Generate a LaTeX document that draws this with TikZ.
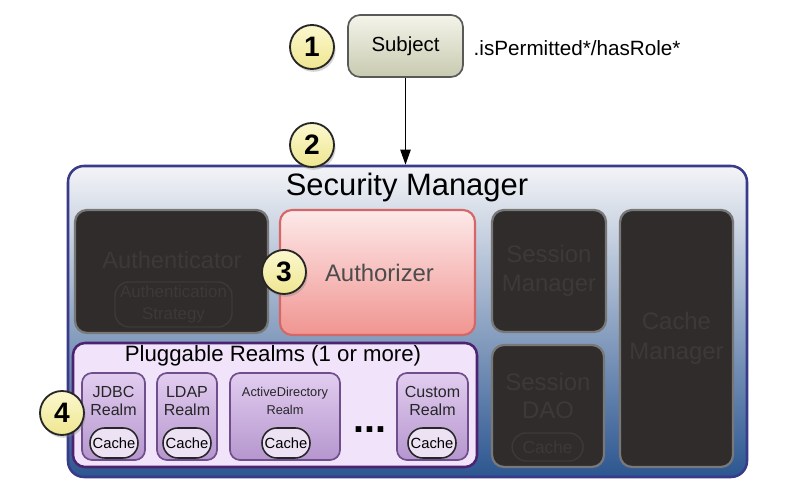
\documentclass[tikz,border=0pt]{standalone}
\usepackage{fontspec}
\setmainfont{Liberation Sans}
\usetikzlibrary{arrows.meta,shapes,positioning,shadows,calc}

\definecolor{darkbox}{HTML}{302C2C}
\definecolor{darktext}{HTML}{3E3939}
\definecolor{darkedge}{HTML}{787878}
\definecolor{secborder}{HTML}{3A3A8A}
\definecolor{sectop}{HTML}{F3F4F7}
\definecolor{secmid}{HTML}{B3BDCB}
\definecolor{secbottom}{HTML}{2C5690}
\definecolor{authztop}{HTML}{FDE9E9}
\definecolor{authzbottom}{HTML}{F09591}
\definecolor{authzedge}{HTML}{D56766}
\definecolor{realmsfill}{HTML}{F1E3FA}
\definecolor{realmborder}{HTML}{4B2370}
\definecolor{realmtop}{HTML}{E2CDF0}
\definecolor{realmbottom}{HTML}{B596CE}
\definecolor{realmline}{HTML}{6E4F8C}
\definecolor{ovalfill}{HTML}{EDE2F4}
\definecolor{numtop}{HTML}{FBF8CF}
\definecolor{numbottom}{HTML}{EFE690}
\definecolor{subjtop}{HTML}{F4F4EA}
\definecolor{subjbottom}{HTML}{C8CAB0}

\tikzset{
  numcircle/.style={circle, draw=black!85, line width=1.3pt, top color=numtop, bottom color=numbottom,
    minimum size=1.1cm, inner sep=0pt, font=\fontsize{20}{20}\selectfont\bfseries,
    drop shadow={opacity=0.35, shadow xshift=0.04cm, shadow yshift=-0.07cm}},
  subjectbox/.style={rectangle, rounded corners=0.3cm, draw=black!65, line width=1.2pt,
    top color=subjtop, bottom color=subjbottom, minimum width=2.875cm, minimum height=1.55cm,
    font=\fontsize{14.5}{17}\selectfont},
  secbox/.style={rectangle, rounded corners=0.4cm, draw=secborder, line width=1.8pt,
    top color=sectop, middle color=secmid, bottom color=secbottom,
    minimum width=16.975cm, minimum height=7.775cm},
  darkpart/.style={rectangle, rounded corners=0.3cm, fill=darkbox, draw=darkedge, line width=1.6pt,
    text=darktext, align=center, font=\fontsize{17}{21}\selectfont},
  darkoval/.style={rectangle, rounded corners=0.35cm, draw=darktext, line width=1pt, text=darktext, align=center},
  authzbox/.style={rectangle, rounded corners=0.3cm, draw=authzedge, line width=1.5pt,
    top color=authztop, bottom color=authzbottom, minimum width=4.875cm, minimum height=3.125cm,
    text=black!70, font=\fontsize{17}{20}\selectfont},
  realmsbox/.style={rectangle, rounded corners=0.3cm, draw=realmborder, line width=1.8pt,
    fill=realmsfill, minimum width=10.1cm, minimum height=3.1cm},
  realmbox/.style={rectangle, rounded corners=0.25cm, draw=realmline, line width=1.2pt,
    top color=realmtop, bottom color=realmbottom, minimum height=2.175cm},
  realmtext/.style={align=center, font=\fontsize{11.4}{12.5}\selectfont, text=black!85},
  cacheoval/.style={rectangle, rounded corners=0.37cm, draw=black!85, line width=1.1pt, fill=ovalfill,
    minimum width=1.2cm, minimum height=0.75cm, inner sep=0pt, font=\fontsize{10.5}{12}\selectfont},
  callarrow/.style={-{Triangle[length=0.38cm,width=0.26cm]}, line width=1.1pt}
}

\begin{document}
\begin{tikzpicture}
  \useasboundingbox (0,0) rectangle (20.175,12.25);

  % Subject
  \node[subjectbox] (subject) at (10.1375,11.1) {Subject};
  \node[anchor=west, inner sep=1pt, font=\fontsize{14.7}{17}\selectfont] (call) at (11.8,11.05) {.isPermitted*/hasRole*};
  \node[numcircle] (n1) at (7.8,11.075) {1};

  % Security Manager
  \node[secbox] (secmgr) at (10.1875,4.2125) {};
  \node[numcircle] (n2) at (7.8,8.625) {2};
  \node[font=\fontsize{22}{26}\selectfont] (sectitle) at (10.175,7.55) {Security Manager};
  \draw[callarrow] (subject.south) -- (subject.south |- secmgr.north);

  % Authenticator
  \node[darkpart, minimum width=4.825cm, minimum height=3.075cm] (authc) at (4.2875,5.4625) {};
  \node[text=darktext, font=\fontsize{16.8}{20}\selectfont] (authctext) at (4.3,5.75) {Authenticator};
  \node[darkoval, minimum width=2.925cm, minimum height=1.125cm, inner sep=0pt,
    font=\fontsize{12}{15.5}\selectfont] (strategy) at (4.3375,4.6375) {Authentication\\Strategy};

  % Authorizer
  \node[authzbox] (authz) at (9.4375,5.4375) {\hspace*{0.1cm}Authorizer};
  \node[numcircle] (n3) at (7.1,5.45) {3};

  % Session, DAO and cache
  \node[darkpart, minimum width=2.85cm, minimum height=3.05cm] (sessmgr) at (13.725,5.475) {Session\\Manager};
  \node[darkpart, minimum width=2.8cm, minimum height=3.05cm] (sessdao) at (13.7,2.1) {};
  \node[text=darktext, align=center, font=\fontsize{17}{20.5}\selectfont] (daotext) at (13.7,2.35) {Session\\DAO};
  \node[darkoval, minimum width=1.775cm, minimum height=0.7cm, inner sep=0pt,
    font=\fontsize{12.3}{14}\selectfont] (daocache) at (13.69,1.075) {Cache};
  \node[darkpart, minimum width=2.825cm, minimum height=6.425cm] (cachemgr) at (16.9125,3.7875) {Cache\\Manager};

  % Pluggable realms
  \node[realmsbox] (realms) at (6.875,2.125) {};
  \node[font=\fontsize{15.8}{18}\selectfont] (realmstitle) at (6.825,3.35) {Pluggable Realms (1 or more)};

  \node[realmbox, minimum width=1.575cm] (jdbc) at (2.8375,1.8375) {};
  \node[realmtext] (jdbctext) at (2.8375,2.225) {JDBC\\Realm};
  \node[cacheoval] (jdbccache) at (2.85,1.175) {Cache};

  \node[realmbox, minimum width=1.5cm] (ldap) at (4.675,1.8375) {};
  \node[realmtext] (ldaptext) at (4.675,2.225) {LDAP\\Realm};
  \node[cacheoval] (ldapcache) at (4.675,1.175) {Cache};

  \node[realmbox, minimum width=2.75cm] (ad) at (7.125,1.8375) {};
  \node[realmtext, font=\fontsize{9.1}{12.5}\selectfont] (adtext) at (7.125,2.225) {ActiveDirectory\\Realm};
  \node[cacheoval] (adcache) at (7.15,1.175) {Cache};

  \node[font=\fontsize{28}{28}\selectfont\bfseries] (dots) at (9.25,1.5) {...};

  \node[realmbox, minimum width=1.775cm] (custom) at (10.8125,1.8375) {};
  \node[realmtext] (customtext) at (10.8125,2.225) {Custom\\Realm};
  \node[cacheoval] (customcache) at (10.8,1.175) {Cache};

  \node[numcircle] (n4) at (1.55,1.925) {4};
\end{tikzpicture}
\end{document}
